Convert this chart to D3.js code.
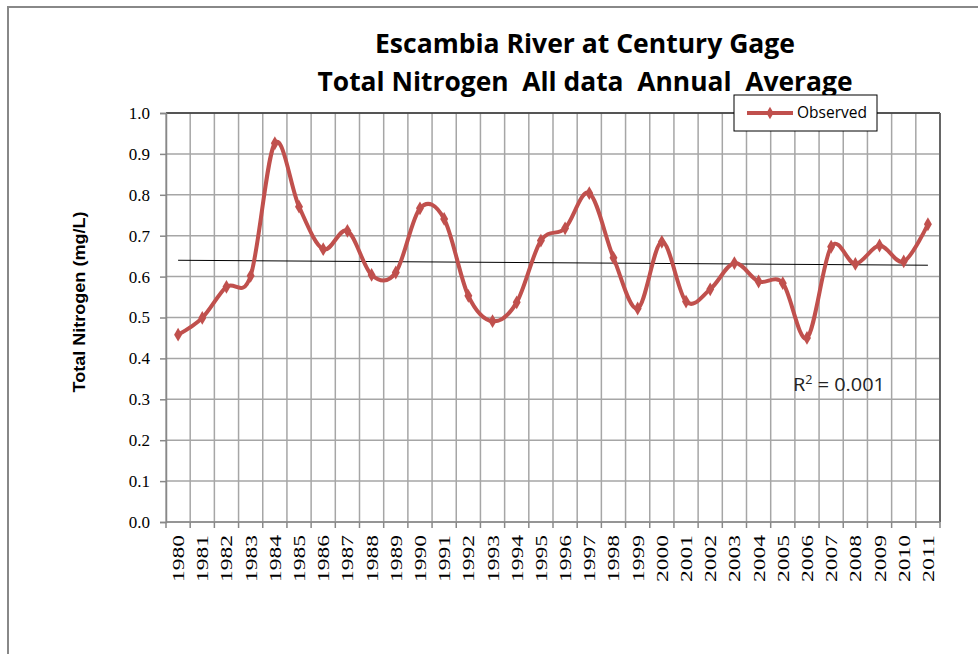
<!DOCTYPE html>
<meta charset="utf-8">
<script src="https://d3js.org/d3.v7.min.js"></script>
<style>
  body { margin: 0; background: #fff; }
</style>
<div id="chart"></div>
<script>

// years on the x axis
var years = ["1980","1981","1982","1983","1984","1985","1986","1987","1988","1989",
  "1990","1991","1992","1993","1994","1995","1996","1997","1998","1999",
  "2000","2001","2002","2003","2004","2005","2006","2007","2008","2009","2010","2011"];

// observed annual average total nitrogen (mg/L)
var observed = [0.458, 0.499, 0.575, 0.602, 0.926, 0.771, 0.667, 0.712, 0.604, 0.610,
  0.767, 0.741, 0.553, 0.491, 0.537, 0.688, 0.718, 0.804, 0.646, 0.522,
  0.685, 0.539, 0.569, 0.633, 0.588, 0.584, 0.450, 0.673, 0.631, 0.676, 0.637, 0.728];

var yTicks = [0, 0.1, 0.2, 0.3, 0.4, 0.5, 0.6, 0.7, 0.8, 0.9, 1.0];

var titleLines = ["Escambia River at Century Gage", "Total Nitrogen  All data  Annual  Average"];
var r2Label = "0.001";

var W = 978, H = 654;
var margin = {top: 113, left: 166, right: 38, bottom: 132};
var width = W - margin.left - margin.right,
    height = H - margin.top - margin.bottom;
var red = "#C0504D";

var svg = d3.select("#chart").append("svg")
  .attr("width", W).attr("height", H);

// outer chart frame
svg.append("path")
  .attr("d", "M8,660 L8,7 L990,7")
  .attr("fill", "none").attr("stroke", "#888").attr("stroke-width", 2);

// title
svg.selectAll(".title")
  .data(titleLines)
  .enter().append("text")
  .attr("class", "title")
  .attr("x", 585)
  .attr("y", function(d, i) { return 53 + i * 38; })
  .attr("text-anchor", "middle")
  .attr("textLength", function(d, i) { return i == 0 ? 420 : 535; })
  .attr("lengthAdjust", "spacingAndGlyphs")
  .style("white-space", "pre")
  .style("font-family", "'Liberation Sans Narrow', 'Open Sans', sans-serif")
  .style("font-weight", "bold")
  .style("font-size", "27px")
  .text(function(d) { return d; });

var g = svg.append("g")
  .attr("transform", "translate(" + margin.left + "," + margin.top + ")");

var x = d3.scaleBand().domain(years).range([0, width]);
var y = d3.scaleLinear().domain([0, 1]).range([height, 0]);

// grid: horizontal
g.append("g").selectAll("line")
  .data(yTicks)
  .enter().append("line")
  .attr("x1", 0).attr("x2", width)
  .attr("y1", function(d) { return y(d); }).attr("y2", function(d) { return y(d); })
  .attr("stroke", "#a6a6a6").attr("stroke-width", 1.5);

// grid: vertical, on category boundaries
var bounds = years.map(function(d) { return x(d); }).concat([width]);
g.append("g").selectAll("line")
  .data(bounds)
  .enter().append("line")
  .attr("x1", function(d) { return d; }).attr("x2", function(d) { return d; })
  .attr("y1", 0).attr("y2", height)
  .attr("stroke", "#a6a6a6").attr("stroke-width", 1.5);

// plot area top and right border
g.append("line").attr("x1", 0).attr("x2", width).attr("y1", 0).attr("y2", 0)
  .attr("stroke", "#333").attr("stroke-width", 1.5);
g.append("line").attr("x1", width).attr("x2", width).attr("y1", 0).attr("y2", height)
  .attr("stroke", "#666").attr("stroke-width", 2);

// y axis
var yAxis = g.append("g")
  .call(d3.axisLeft(y).tickValues(yTicks).tickFormat(d3.format(".1f")).tickSize(6).tickPadding(10));
yAxis.select(".domain").attr("stroke", "#888").attr("stroke-width", 1.5);
yAxis.selectAll(".tick line").attr("stroke", "#888").attr("stroke-width", 1.5);
yAxis.selectAll("text")
  .style("font-family", "'Liberation Serif', serif")
  .style("font-size", "17px")
  .attr("fill", "#000");

// x axis: ticks between categories
var xAxisG = g.append("g").attr("transform", "translate(0," + height + ")");
xAxisG.append("line").attr("x1", 0).attr("x2", width)
  .attr("stroke", "#888").attr("stroke-width", 1.5);
xAxisG.selectAll(".xt")
  .data(bounds)
  .enter().append("line")
  .attr("class", "xt")
  .attr("x1", function(d) { return d; }).attr("x2", function(d) { return d; })
  .attr("y1", 0).attr("y2", 6)
  .attr("stroke", "#888").attr("stroke-width", 1.5);
xAxisG.selectAll(".xl")
  .data(years)
  .enter().append("text")
  .attr("class", "xl")
  .attr("transform", function(d) {
    return "translate(" + (x(d) + x.bandwidth() / 2 + 6) + ",13) rotate(-90)";
  })
  .attr("text-anchor", "end")
  .attr("textLength", 47)
  .attr("lengthAdjust", "spacingAndGlyphs")
  .style("font-family", "'Liberation Serif', serif")
  .style("font-size", "16px")
  .text(function(d) { return d; });

// y axis title
svg.append("text")
  .attr("transform", "translate(85,302) rotate(-90)")
  .attr("text-anchor", "middle")
  .attr("textLength", 181)
  .attr("lengthAdjust", "spacingAndGlyphs")
  .style("font-family", "'Liberation Sans', Arial, sans-serif")
  .style("font-weight", "bold")
  .style("font-size", "16px")
  .text("Total Nitrogen (mg/L)");

// linear trend line from the observed values
var xs = d3.range(observed.length);
var mx = d3.mean(xs), my = d3.mean(observed);
var sxy = d3.sum(xs, function(i) { return (i - mx) * (observed[i] - my); });
var sxx = d3.sum(xs, function(i) { return (i - mx) * (i - mx); });
var slope = sxy / sxx, icpt = my - slope * mx;
var cx = function(i) { return x(years[i]) + x.bandwidth() / 2; };
g.append("line")
  .attr("x1", cx(0)).attr("y1", y(icpt))
  .attr("x2", cx(years.length - 1)).attr("y2", y(icpt + slope * (years.length - 1)))
  .attr("stroke", "#000").attr("stroke-width", 1);

// smoothed observed line
var line = d3.line()
  .x(function(d, i) { return cx(i); })
  .y(function(d) { return y(d); })
  .curve(d3.curveCardinal.tension(0));
g.append("path")
  .datum(observed)
  .attr("d", line)
  .attr("fill", "none")
  .attr("stroke", red)
  .attr("stroke-width", 4)
  .attr("stroke-linejoin", "round");

g.append("g").selectAll("path")
  .data(observed)
  .enter().append("path")
  .attr("d", d3.symbol().type(d3.symbolDiamond).size(55))
  .attr("transform", function(d, i) { return "translate(" + cx(i) + "," + y(d) + ")"; })
  .attr("fill", red);

// R squared label
var r2 = svg.append("text")
  .attr("x", 793).attr("y", 391)
  .attr("textLength", 92)
  .attr("lengthAdjust", "spacingAndGlyphs")
  .style("white-space", "pre")
  .style("font-family", "'Liberation Sans Narrow', 'Open Sans', sans-serif")
  .style("font-size", "19px")
  .attr("fill", "#222");
r2.append("tspan").text("R");
r2.append("tspan").attr("dy", -7).style("font-size", "12px").text("2");
r2.append("tspan").attr("dy", 7).text(" = " + r2Label);

// legend
var lg = svg.append("g").attr("transform", "translate(734,95)");
lg.append("rect").attr("width", 143).attr("height", 36)
  .attr("fill", "#fff").attr("stroke", "#000").attr("stroke-width", 1);
lg.append("line").attr("x1", 13).attr("x2", 59).attr("y1", 18).attr("y2", 18)
  .attr("stroke", red).attr("stroke-width", 4);
lg.append("path").attr("d", d3.symbol().type(d3.symbolDiamond).size(45))
  .attr("transform", "translate(36,18)").attr("fill", red);
lg.append("text").attr("x", 63).attr("y", 23)
  .attr("textLength", 70)
  .attr("lengthAdjust", "spacingAndGlyphs")
  .style("font-family", "'Liberation Sans Narrow', 'Open Sans', sans-serif")
  .style("font-size", "16px")
  .text("Observed");

</script>
